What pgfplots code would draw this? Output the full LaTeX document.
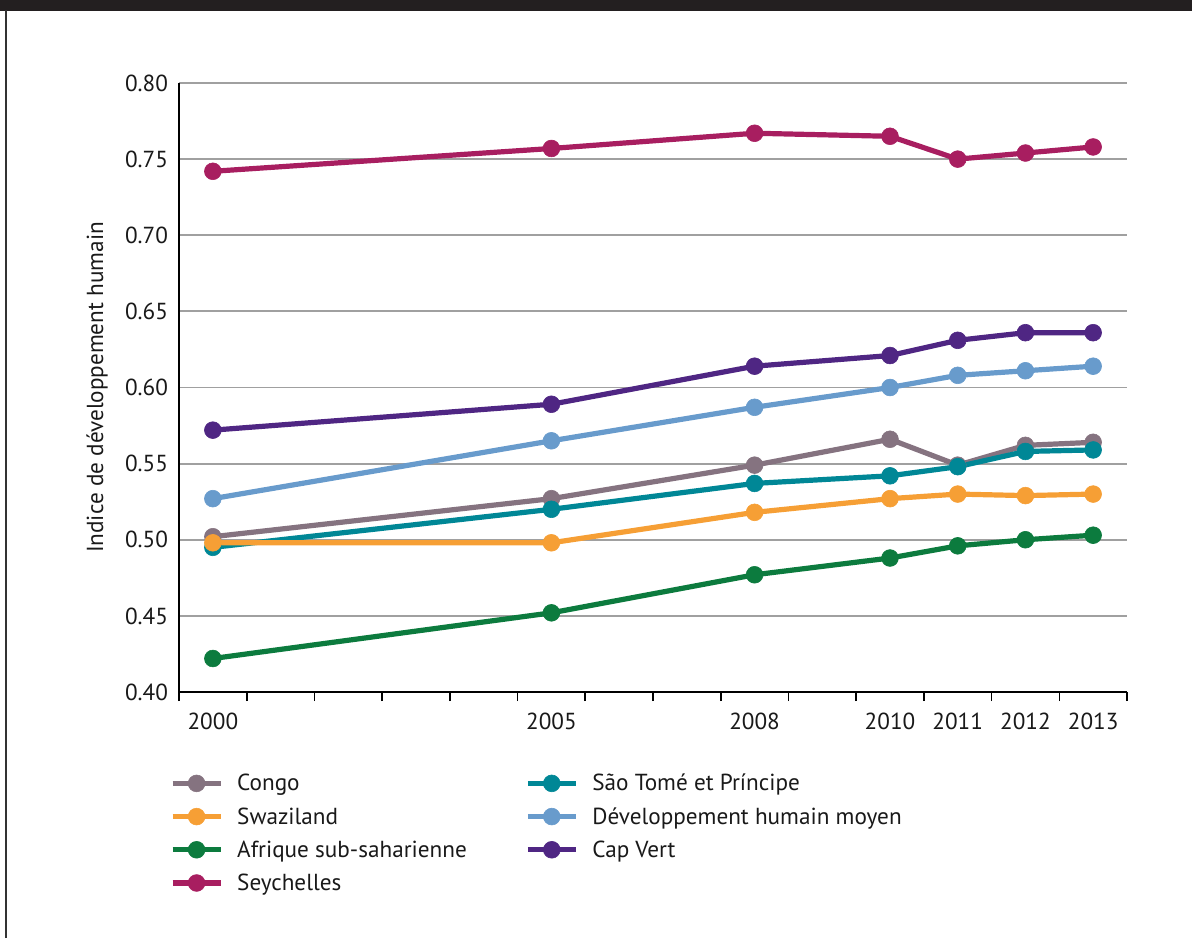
\documentclass[border=0pt]{standalone}
\usepackage{pgfplots}
\pgfplotsset{compat=1.18}
\usepackage{fontspec}
\setmainfont{PT Sans}
\definecolor{congo}{RGB}{133,115,128}
\definecolor{swazi}{RGB}{246,159,53}
\definecolor{afrique}{RGB}{12,123,62}
\definecolor{seych}{RGB}{168,30,96}
\definecolor{saotome}{RGB}{0,135,150}
\definecolor{dhm}{RGB}{104,155,204}
\definecolor{capvert}{RGB}{79,38,131}
\definecolor{topbar}{RGB}{35,31,32}
\definecolor{gridgray}{RGB}{160,160,160}
\pgfplotsset{ser/.style={line width=2.6pt, mark=*, mark size=4.2pt, mark options={solid, line width=0.3pt}}}
\begin{document}
\begin{tikzpicture}
\useasboundingbox (0pt,0pt) rectangle (596pt,469pt);
\fill[topbar] (0pt,463.5pt) rectangle (596pt,469pt);
\draw[line width=1pt, black!80] (3.2pt,0pt) -- (3.2pt,464pt);
\begin{axis}[
  at={(89.5pt,123pt)}, anchor=south west,
  scale only axis, width=474pt, height=304.5pt,
  xmin=1999.5, xmax=2013.5, ymin=0.40, ymax=0.80,
  axis x line*=bottom, axis y line*=left,
  axis line style={-, black, line width=0.8pt},
  xtick={2000,2005,2008,2010,2011,2012,2013},
  xticklabels={2000,2005,2008,2010,2011,2012,2013},
  minor xtick={1999.5,2000.5,2001.5,2002.5,2003.5,2004.5,2005.5,2006.5,2007.5,2008.5,2009.5,2010.5,2011.5,2012.5,2013.5},
  major tick length=0pt, minor tick length=4.5pt, tick align=outside,
  minor tick style={black, line width=0.8pt},
  ytick={0.40,0.45,0.50,0.55,0.60,0.65,0.70,0.75,0.80},
  yticklabels={0.40,0.45,0.50,0.55,0.60,0.65,0.70,0.75,0.80},
  ymajorgrids, major grid style={gridgray, line width=0.9pt},
  tick label style={font=\fontsize{11.6}{13}\selectfont, text=black!90},
  xticklabel style={yshift=-7pt},
  yticklabel style={xshift=-2pt},
  ylabel={Indice de développement humain},
  ylabel style={at={(axis description cs:-0.0865,0.5)}, anchor=center, font=\fontsize{11.6}{13}\selectfont, text=black!90},
  legend image code/.code={\draw[mark repeat=2,mark phase=2,#1] plot coordinates {(0pt,3.8pt) (12pt,3.8pt) (24pt,3.8pt)}; \path (31pt,3.8pt);},
  legend style={draw=none, fill=none, inner sep=0pt, outer sep=0pt,
    at={(axis description cs:-0.0095,-0.1264)}, anchor=north west,
    column sep=0pt, row sep=0pt,
    nodes={inner sep=0pt, text height=11pt, text depth=5.6pt, anchor=base west},
    font=\fontsize{11.6}{13}\selectfont, text=black!90},
  legend cell align=left,
  legend columns=4, transpose legend,
]
\addplot[congo, ser, forget plot] coordinates {(2000,0.502) (2005,0.527) (2008,0.549) (2010,0.566) (2011,0.549) (2012,0.562) (2013,0.564)};
\addplot[saotome, ser, forget plot] coordinates {(2000,0.495) (2005,0.520) (2008,0.537) (2010,0.542) (2011,0.548) (2012,0.558) (2013,0.559)};
\addplot[swazi, ser, forget plot] coordinates {(2000,0.498) (2005,0.498) (2008,0.518) (2010,0.527) (2011,0.530) (2012,0.529) (2013,0.530)};
\addplot[afrique, ser, forget plot] coordinates {(2000,0.422) (2005,0.452) (2008,0.477) (2010,0.488) (2011,0.496) (2012,0.500) (2013,0.503)};
\addplot[dhm, ser, forget plot] coordinates {(2000,0.527) (2005,0.565) (2008,0.587) (2010,0.600) (2011,0.608) (2012,0.611) (2013,0.614)};
\addplot[capvert, ser, forget plot] coordinates {(2000,0.572) (2005,0.589) (2008,0.614) (2010,0.621) (2011,0.631) (2012,0.636) (2013,0.636)};
\addplot[seych, ser, forget plot] coordinates {(2000,0.742) (2005,0.757) (2008,0.767) (2010,0.765) (2011,0.750) (2012,0.754) (2013,0.758)};
\addlegendimage{congo, ser}
\addlegendentry{\makebox[144pt][l]{Congo}}
\addlegendimage{swazi, ser}
\addlegendentry{\makebox[144pt][l]{Swaziland}}
\addlegendimage{afrique, ser}
\addlegendentry{\makebox[144pt][l]{Afrique sub-saharienne}}
\addlegendimage{seych, ser}
\addlegendentry{\makebox[144pt][l]{Seychelles}}
\addlegendimage{saotome, ser}
\addlegendentry{São Tomé et Príncipe}
\addlegendimage{dhm, ser}
\addlegendentry{Développement humain moyen}
\addlegendimage{capvert, ser}
\addlegendentry{Cap Vert}
\end{axis}
\end{tikzpicture}
\end{document}
